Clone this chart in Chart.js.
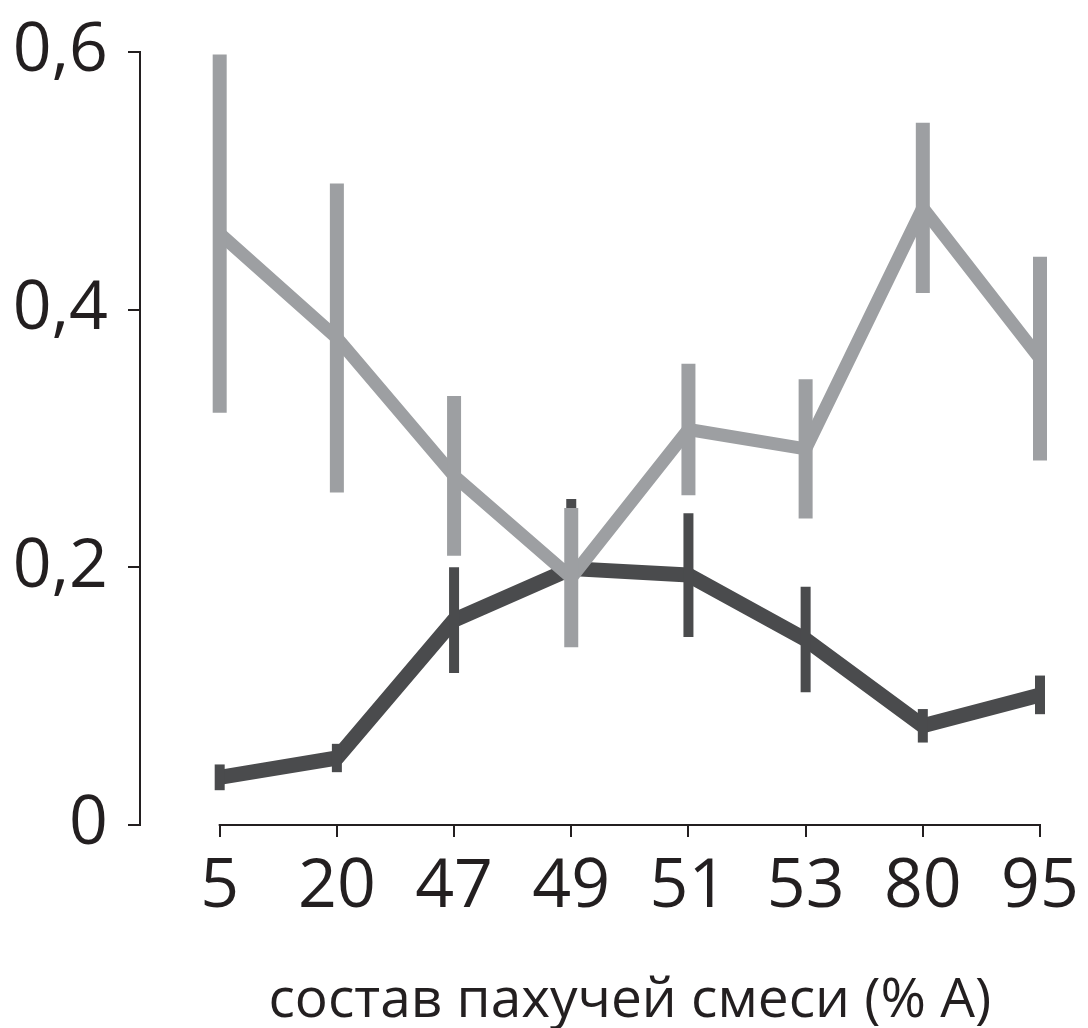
<!DOCTYPE html>
<html>
<head>
<meta charset="utf-8">
<script src="https://cdn.jsdelivr.net/npm/chart.js@4.4.0/dist/chart.umd.min.js"></script>
<style>
  html, body { margin: 0; padding: 0; background: #ffffff; }
  #wrap { width: 1088px; height: 1028px; }
</style>
</head>
<body>
<div id="wrap"><canvas id="c" width="1088" height="1028"></canvas></div>
<script>
// ---- data ----
const categories = ['5', '20', '47', '49', '51', '53', '80', '95'];
const lightValues = [0.459, 0.378, 0.271, 0.192, 0.307, 0.292, 0.479, 0.362];
const lightErrors = [0.139, 0.120, 0.062, 0.054, 0.051, 0.054, 0.066, 0.079];
const darkValues  = [0.037, 0.052, 0.159, 0.199, 0.194, 0.144, 0.077, 0.101];
const darkErrors  = [0.010, 0.011, 0.041, 0.054, 0.048, 0.041, 0.013, 0.015];
const yTicks = [0, 0.2, 0.4, 0.6];
const xTitle = 'состав пахучей смеси (% A)';

const AXIS = '#231f20';
const LIGHT = '#9d9fa2';
const DARK = '#4a4b4d';
const FONT = "'Open Sans', sans-serif";

const toPts = (vals) => vals.map((v, i) => ({ x: i, y: v }));

const errorBars = {
  id: 'errorBars',
  afterDatasetDraw(chart, args) {
    const ds = chart.data.datasets[args.index];
    const xs = chart.scales.x, ys = chart.scales.y;
    const ctx = chart.ctx;
    ctx.save();
    ctx.strokeStyle = ds.borderColor;
    ctx.lineWidth = ds.errWidth;
    ctx.lineCap = 'butt';
    ds.data.forEach((p, i) => {
      const e = ds.errors[i];
      const x = xs.getPixelForValue(p.x);
      ctx.beginPath();
      ctx.moveTo(x, ys.getPixelForValue(p.y - e));
      ctx.lineTo(x, ys.getPixelForValue(p.y + e));
      ctx.stroke();
    });
    ctx.restore();
  }
};

const axisExtras = {
  id: 'axisExtras',
  afterDraw(chart) {
    const xs = chart.scales.x;
    const ctx = chart.ctx;
    const y = chart.chartArea.bottom;
    const x0 = xs.getPixelForValue(0), x1 = xs.getPixelForValue(categories.length - 1);
    ctx.save();
    ctx.strokeStyle = AXIS;
    ctx.lineWidth = 2;
    ctx.beginPath();
    ctx.moveTo(x0 - 1, y);
    ctx.lineTo(x1 + 1, y);
    ctx.stroke();
    ctx.fillStyle = AXIS;
    ctx.font = "55px " + FONT;
    ctx.textAlign = 'center';
    ctx.textBaseline = 'alphabetic';
    ctx.fillText(xTitle, (x0 + x1) / 2, 1017);
    ctx.restore();
  }
};

new Chart(document.getElementById('c'), {
  type: 'line',
  data: {
    datasets: [
      {
        data: toPts(lightValues), errors: lightErrors, errWidth: 14,
        borderColor: LIGHT, borderWidth: 13, pointRadius: 0, tension: 0,
        borderJoinStyle: 'round', clip: false
      },
      {
        data: toPts(darkValues), errors: darkErrors, errWidth: 10,
        borderColor: DARK, borderWidth: 15, pointRadius: 0, tension: 0,
        borderJoinStyle: 'round', clip: false
      }
    ]
  },
  options: {
    responsive: false,
    animation: false,
    layout: { padding: { left: 0, top: 52, right: 48, bottom: 0 } },
    plugins: { legend: { display: false }, tooltip: { enabled: false } },
    scales: {
      x: {
        type: 'linear',
        min: -0.68,
        max: categories.length - 1,
        afterBuildTicks: (s) => { s.ticks = categories.map((c, i) => ({ value: i })); },
        afterFit: (s) => { s.height = 1028 - 825; s.paddingLeft = 0; s.paddingRight = 0; },
        border: { display: false },
        grid: { display: true, drawOnChartArea: false, drawTicks: true, tickLength: 12, color: AXIS, lineWidth: 2 },
        ticks: {
          autoSkip: false, maxRotation: 0, padding: 10,
          color: AXIS, font: { family: FONT, size: 68 },
          callback: (v) => categories[v]
        }
      },
      y: {
        min: 0, max: 0.6,
        afterBuildTicks: (s) => { s.ticks = yTicks.map(v => ({ value: v })); },
        afterFit: (s) => { s.width = 140; s.paddingTop = 0; s.paddingBottom = 0; },
        border: { display: true, color: AXIS, width: 2 },
        grid: { display: true, drawOnChartArea: false, drawTicks: true, tickLength: 12, color: AXIS, lineWidth: 2 },
        ticks: {
          padding: 20, color: AXIS, font: { family: FONT, size: 68 },
          callback: (v) => v === 0 ? '0' : v.toFixed(1).replace('.', ',')
        }
      }
    }
  },
  plugins: [errorBars, axisExtras]
});
</script>
</body>
</html>
